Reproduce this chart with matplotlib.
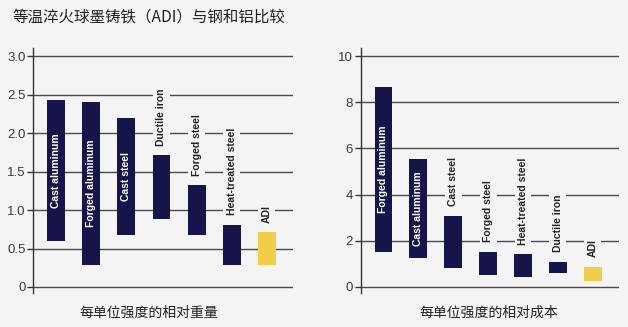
import matplotlib
matplotlib.use("Agg")
import matplotlib.pyplot as plt
from matplotlib import font_manager

# --- data ---
weight_names = ["Cast aluminum", "Forged aluminum", "Cast steel", "Ductile iron",
                "Forged steel", "Heat-treated steel", "ADI"]
weight_low = [0.60, 0.29, 0.67, 0.88, 0.67, 0.29, 0.29]
weight_high = [2.43, 2.40, 2.20, 1.71, 1.32, 0.81, 0.71]
weight_inside = [True, True, True, False, False, False, False]
weight_ticks = [0, 0.5, 1.0, 1.5, 2.0, 2.5, 3.0]
weight_ticklabels = ["0", "0.5", "1.0", "1.5", "2.0", "2.5", "3.0"]

cost_names = ["Forged aluminum", "Cast aluminum", "Cast steel", "Forged steel",
              "Heat-treated steel", "Ductile iron", "ADI"]
cost_low = [1.50, 1.24, 0.84, 0.52, 0.42, 0.59, 0.26]
cost_high = [8.67, 5.53, 3.07, 1.53, 1.41, 1.08, 0.88]
cost_inside = [True, True, False, False, False, False, False]
cost_ticks = [0, 2, 4, 6, 8, 10]
cost_ticklabels = ["0", "2", "4", "6", "8", "10"]

TITLE = "等温淬火球墨铸铁（ADI）与钢和铝比较"
XLABEL_W = "每单位强度的相对重量"
XLABEL_C = "每单位强度的相对成本"

BG = "#f4f4f4"
NAVY = "#16144a"
GOLD = "#f2cd4a"
GRID = "#4a4a4a"

installed = {f.name for f in font_manager.fontManager.ttflist}
NARROW = "Liberation Sans Narrow" if "Liberation Sans Narrow" in installed else "Liberation Sans"
CJK = ["Noto Sans CJK SC", "DejaVu Sans"]

fig = plt.figure(figsize=(6.28, 3.27), dpi=100, facecolor=BG)


def panel(rect, names, low, high, inside, ticks, ticklabels, ylim):
    ax = fig.add_axes(rect, facecolor=BG)
    xs = list(range(len(names)))
    for t in ticks:
        ax.axhline(t, color=GRID, lw=1.0, zorder=1)
    colors = [NAVY] * (len(names) - 1) + [GOLD]
    heights = [h - l for l, h in zip(low, high)]
    ax.bar(xs, heights, bottom=low, width=0.51, color=colors, zorder=2)
    for x, name, l, h, ins in zip(xs, names, low, high, inside):
        if ins:
            ax.text(x, (l + h) / 2, name, rotation=90, ha="center", va="center",
                    color="white", fontsize=7.5, fontweight="bold", family=NARROW, zorder=3)
        else:
            ax.annotate(name, (x, h), xytext=(0, 7), textcoords="offset points",
                        rotation=90, ha="center", va="bottom", color="#222222",
                        fontsize=7.5, fontweight="bold", family=NARROW, zorder=3,
                        bbox=dict(facecolor=BG, edgecolor="none", pad=2.5))
    ax.set_xlim(-0.65, len(names) - 0.25)
    ax.set_ylim(*ylim)
    ax.set_yticks(ticks)
    ax.set_yticklabels(ticklabels, family=NARROW, fontsize=9.5, color="#3a3a3a")
    ax.set_xticks([])
    for s in ["top", "right", "bottom"]:
        ax.spines[s].set_visible(False)
    ax.spines["left"].set_color("#333333")
    ax.spines["left"].set_linewidth(1.0)
    ax.tick_params(axis="y", length=4, width=1.0, color="#333333", pad=1.5)
    return ax


panel([0.0533, 0.104, 0.4133, 0.749], weight_names, weight_low, weight_high,
      weight_inside, weight_ticks, weight_ticklabels, (-0.078, 3.104))
panel([0.5744, 0.104, 0.4113, 0.749], cost_names, cost_low, cost_high,
      cost_inside, cost_ticks, cost_ticklabels, (-0.26, 10.35))

fig.text(0.02, 0.948, TITLE, family=CJK, fontsize=11.2, color="#222222",
         ha="left", va="center")
fig.text(0.237, 0.043, XLABEL_W, family=CJK, fontsize=10, color="#222222",
         ha="center", va="center")
fig.text(0.778, 0.043, XLABEL_C, family=CJK, fontsize=10, color="#222222",
         ha="center", va="center")

fig.savefig("out.png", dpi=100, facecolor=BG)
